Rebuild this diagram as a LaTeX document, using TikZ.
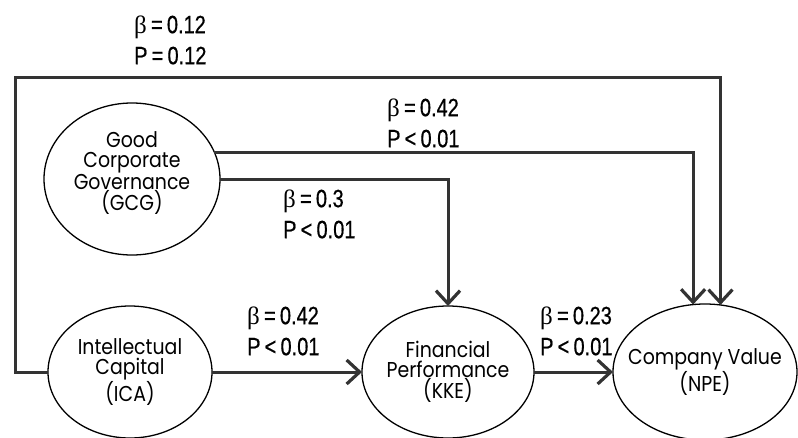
\documentclass[tikz,border=0pt]{standalone}
\usepackage{fontspec}
\usetikzlibrary{shapes.geometric,arrows.meta}
\newfontfamily\labfont[FakeStretch=0.8,FakeBold=0.6]{Liberation Sans}
\newfontfamily\betafont{Liberation Serif}
\newfontfamily\nodefont[FakeStretch=0.88]{Poppins}
\newcommand{\bet}{{\betafont β}}
\definecolor{ink}{HTML}{333333}
\tikzset{
  ell/.style={draw=black, line width=1.3pt, ellipse, inner sep=0pt, outer sep=0pt},
  ntext/.style={align=center, inner sep=0pt, font=\nodefont\fontsize{21.5}{20}\selectfont},
  lab/.style={align=left, anchor=west, inner sep=0pt, font=\labfont\fontsize{25}{31}\selectfont},
  conn/.style={draw=ink, line width=3pt},
  arr/.style={conn, -{Straight Barb[length=13pt, width=24pt, line width=3.2pt]}},
}
\begin{document}
\begin{tikzpicture}[x=1pt, y=-1pt]
\useasboundingbox (0,0) rectangle (798,437);
% ellipses
\node[ell, minimum width=176pt, minimum height=152pt] (gcg) at (132,179) {};
\node[ell, minimum width=164pt, minimum height=132pt] (ica) at (130,372) {};
\node[ell, minimum width=172pt, minimum height=132pt] (kke) at (448,372) {};
\node[ell, minimum width=184pt, minimum height=136pt] (npe) at (705,372) {};
% texts
\node[ntext] (gcgt) at (132,173) {Good\\Corporate\\Governance\\(GCG)};
\node[ntext] (icat) at (130,372) {Intellectual\\Capital\\(ICA)};
\node[ntext] (kket) at (448,372) {Financial\\Performance\\(KKE)};
\node[ntext] (npet) at (705,372) {Company Value\\(NPE)};
% connectors
\coordinate (c1) at (15,77);
\draw[arr] (ica.west) -| (c1) -| (npe.77.4);
\draw[arr] (gcg.18.2) -| (npe.100.1);
\draw[arr] (gcg.east) -| (kke.north);
\draw[arr] (ica.east) -- (kke.west);
\draw[arr] (kke.east) -- (npe.west);
% labels
\node[lab] (l1) at (134,40) {\bet\,=\,0.12\\P\,=\,0.12};
\node[lab] (l2) at (387,123) {\bet\,=\,0.42\\P\,<\,0.01};
\node[lab] (l3) at (283,214) {\bet\,=\,0.3\\P\,<\,0.01};
\node[lab] (l4) at (247,331) {\bet\,=\,0.42\\P\,<\,0.01};
\node[lab] (l5) at (540,331) {\bet\,=\,0.23\\P\,<\,0.01};
\end{tikzpicture}
\end{document}
